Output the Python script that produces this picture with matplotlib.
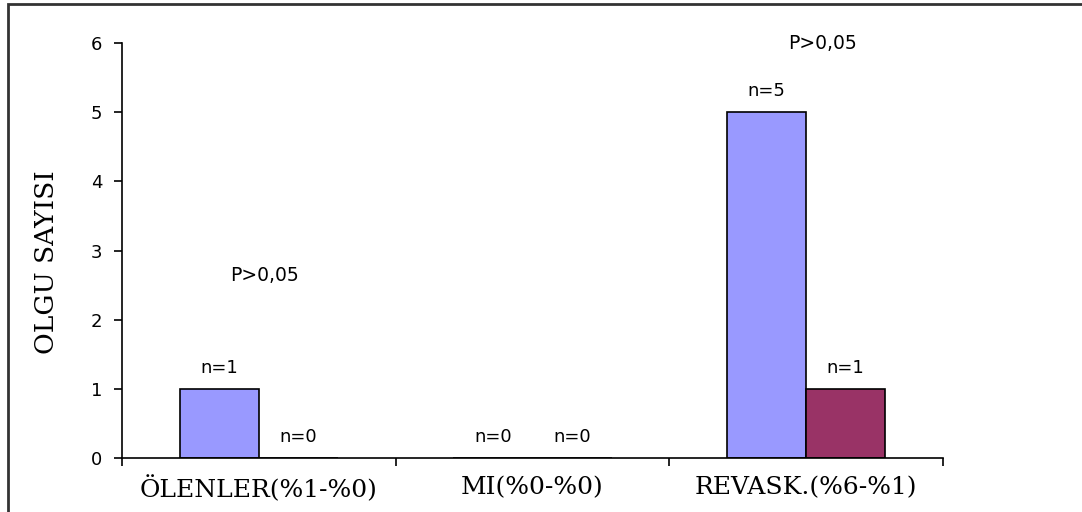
import matplotlib
matplotlib.use("Agg")
import matplotlib.pyplot as plt
from matplotlib.patches import Rectangle
import numpy as np

categories = ["ÖLENLER(%1-%0)", "MI(%0-%0)", "REVASK.(%6-%1)"]
series_a = [1, 0, 5]
series_b = [0, 0, 1]
labels_a = ["n=1", "n=0", "n=5"]
labels_b = ["n=0", "n=0", "n=1"]
p_texts = ["P>0,05", "P>0,05"]
p_pos = [(0.02, 2.64), (2.06, 6.0)]
yticks = [0, 1, 2, 3, 4, 5, 6]

fig = plt.figure(figsize=(10.82, 5.12), dpi=100)
ax = fig.add_axes([122/1082, 54/512, 821/1082, 415/512])

x = np.arange(len(categories))
w = 0.289
ca = "#9999ff"
cb = "#993366"
ax.bar(x - w/2, series_a, w, color=ca, edgecolor="black", linewidth=1.2)
ax.bar(x + w/2, series_b, w, color=cb, edgecolor="black", linewidth=1.2)

sans = "DejaVu Sans"
serif = "DejaVu Serif"
for i in range(len(categories)):
    ax.annotate(labels_a[i], (x[i] - w/2, series_a[i]), xytext=(0, 15), textcoords="offset points",
                ha="center", va="center", fontsize=13, family=sans)
    ax.annotate(labels_b[i], (x[i] + w/2, series_b[i]), xytext=(0, 15), textcoords="offset points",
                ha="center", va="center", fontsize=13, family=sans)

for t, (px, py) in zip(p_texts, p_pos):
    ax.text(px, py, t, ha="center", va="center", fontsize=13.5, family=sans, clip_on=False)

ax.set_xlim(-0.5, 2.5)
ax.set_ylim(0, 6)
ax.set_yticks(yticks)
ax.set_yticklabels([str(v) for v in yticks], family=sans, fontsize=13)
ax.set_xticks(x)
ax.set_xticklabels(categories, family=serif, fontsize=18)
ax.set_xticks(np.arange(-0.5, 3.0, 1.0), minor=True)
ax.tick_params(axis="x", which="major", length=0, pad=13)
ax.tick_params(axis="x", which="minor", length=6, width=1.2, direction="out")
ax.tick_params(axis="y", length=6, width=1.2, direction="out", pad=8)
for s in ["top", "right"]:
    ax.spines[s].set_visible(False)
for s in ["left", "bottom"]:
    ax.spines[s].set_linewidth(1.2)
ax.set_ylabel("OLGU SAYISI", family=serif, fontsize=19)
ax.yaxis.set_label_coords(47/1082, (512-262)/512, transform=fig.transFigure)
ax.yaxis.label.set_va("center")

fig.patches.append(Rectangle((8/1082, -0.05), 1.1, (512-4)/512 + 0.05, transform=fig.transFigure,
                             fill=False, edgecolor="#333333", linewidth=2))

fig.savefig("out.png", dpi=100)
